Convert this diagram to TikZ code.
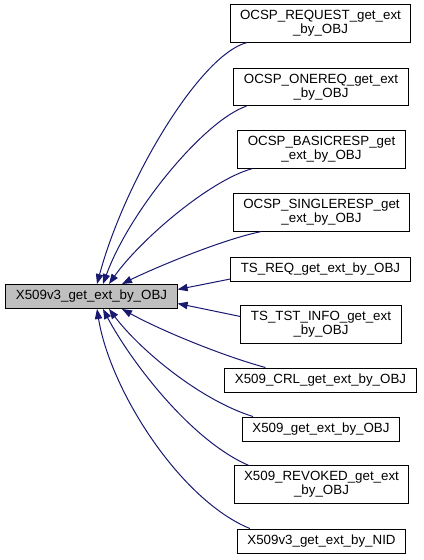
\documentclass[tikz,border=0pt]{standalone}
\usepackage{fontspec}
\setmainfont{Liberation Sans}
\usetikzlibrary{calc,arrows.meta}
\definecolor{edgeblue}{HTML}{191970}
\definecolor{mainfill}{HTML}{BFBFBF}
\tikzset{
  fnbox/.style={draw=black, line width=0.75pt, fill=white, inner xsep=7.5pt,
    inner ysep=2pt, align=center, font=\fontsize{10}{10.5}\selectfont},
  onebox/.style={fnbox, minimum height=18pt},
  twobox/.style={fnbox, minimum height=28pt},
  callarrow/.style={edgeblue, line width=0.75pt, -{Triangle[length=7.5pt,width=5.5pt]}}
}
\begin{document}
\begin{tikzpicture}[x=0.75pt,y=-0.75pt]
  % pixel grid, y pointing down
  \useasboundingbox (0,0) rectangle (424,560);

  % ---------- called function ----------
  \node[onebox, fill=mainfill] (main) at (91.5,296.5) {X509v3\_get\_ext\_by\_OBJ};

  % ---------- callers ----------
  \node[twobox] (req)     at (320.5,23.5)  {OCSP\_REQUEST\_get\_ext\\\_by\_OBJ};
  \node[twobox] (onereq)  at (321,87)      {OCSP\_ONEREQ\_get\_ext\\\_by\_OBJ};
  \node[twobox] (basic)   at (321.5,149.5) {OCSP\_BASICRESP\_get\\\_ext\_by\_OBJ};
  \node[twobox] (single)  at (321.5,212.5) {OCSP\_SINGLERESP\_get\\\_ext\_by\_OBJ};
  \node[onebox] (tsreq)   at (320.5,269)   {TS\_REQ\_get\_ext\_by\_OBJ};
  \node[twobox] (tstinfo) at (321,324.5)   {TS\_TST\_INFO\_get\_ext\\\_by\_OBJ};
  \node[onebox] (crl)     at (320.5,380)   {X509\_CRL\_get\_ext\_by\_OBJ};
  \node[onebox] (xget)    at (321,429)     {X509\_get\_ext\_by\_OBJ};
  \node[twobox] (revoked) at (321.5,484.5) {X509\_REVOKED\_get\_ext\\\_by\_OBJ};
  \node[onebox] (nid)     at (321.5,541)   {X509v3\_get\_ext\_by\_NID};

  % ---------- calls into the top edge ----------
  \draw[callarrow] ($(req.south west)+(17,0)$)
    .. controls (200,55) and (125,180) .. ($(main.north)+(5.5,0)$);
  \draw[callarrow] ($(onereq.south west)+(13,0)$)
    .. controls (205,120) and (130,210) .. ($(main.north)+(11.5,0)$);
  \draw[callarrow] ($(basic.south west)+(15,0)$)
    .. controls (210,180) and (140,240) .. ($(main.north)+(17.5,0)$);
  \draw[callarrow] ($(single.south west)+(28,0)$)
    .. controls (220,240) and (150,270) .. ($(main.north)+(30.5,0)$);

  % ---------- calls into the right edge ----------
  \draw[callarrow] ($(tsreq.west)+(0,10)$) -- ($(main.east)+(0,-7)$);
  \draw[callarrow] ($(tstinfo.west)+(0,-8)$) -- ($(main.east)+(0,7)$);

  % ---------- calls into the bottom edge ----------
  \draw[callarrow] ($(crl.north west)+(41,0)$)
    .. controls (220,355) and (160,330) .. ($(main.south)+(30.5,0)$);
  \draw[callarrow] ($(xget.north west)+(11,0)$)
    .. controls (200,400) and (140,350) .. ($(main.south)+(17.5,0)$);
  \draw[callarrow] ($(revoked.north west)+(15,0)$)
    .. controls (190,440) and (130,360) .. ($(main.south)+(11.5,0)$);
  \draw[callarrow] ($(nid.north west)+(13,0)$)
    .. controls (180,500) and (110,390) .. ($(main.south)+(5.5,0)$);
\end{tikzpicture}
\end{document}
